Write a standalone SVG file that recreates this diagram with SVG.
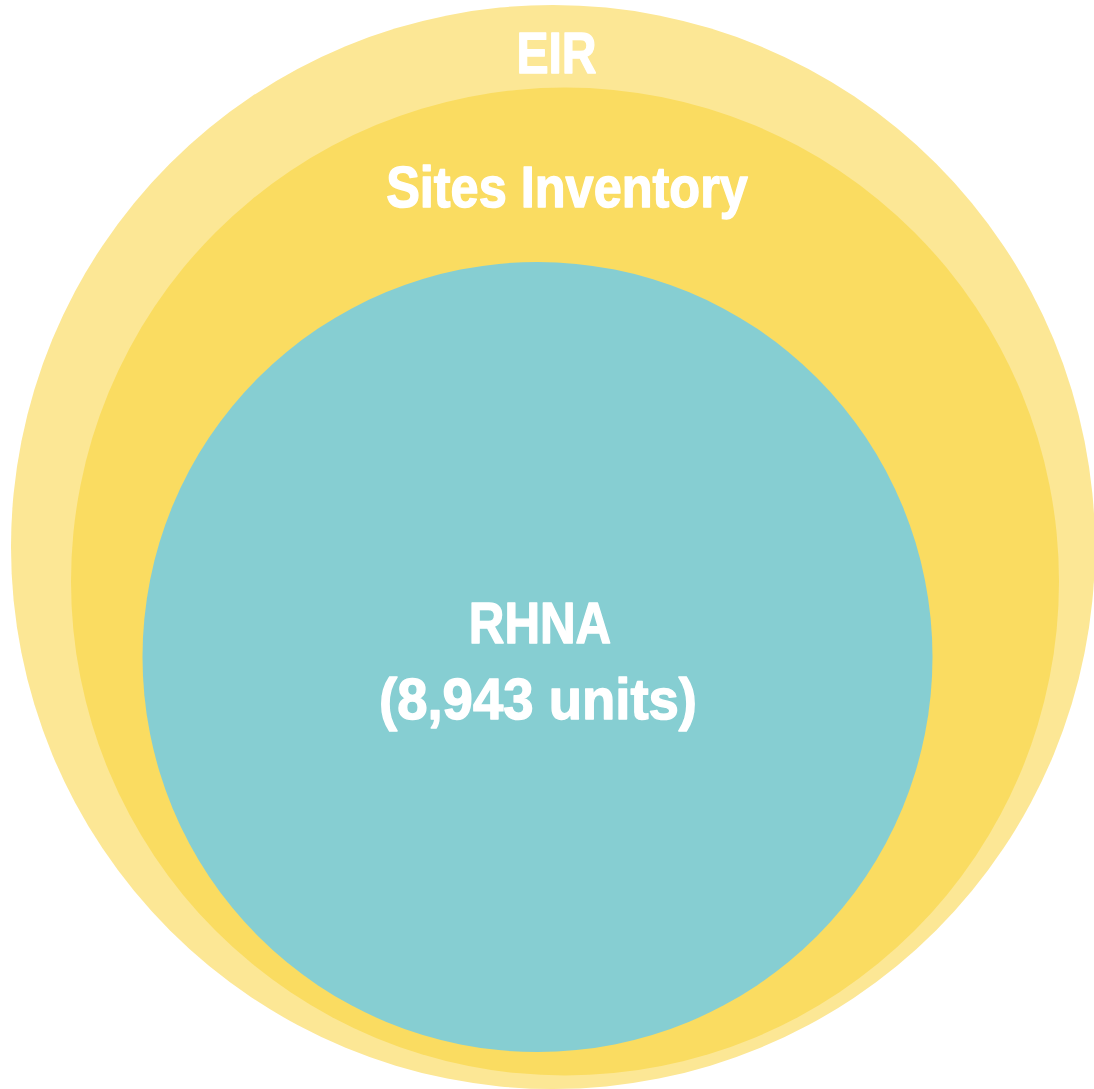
<svg xmlns="http://www.w3.org/2000/svg" width="1094" height="1089" viewBox="0 0 1094 1089">
<style>
.t{font-family:"Liberation Sans",Arial,sans-serif;font-weight:bold;font-size:58px;fill:#ffffff;stroke:#ffffff;stroke-width:1.4px;stroke-linejoin:round;text-anchor:middle}
</style>
<rect width="1094" height="1089" fill="#ffffff"/>
<g id="eir">
<circle cx="553" cy="547" r="542" fill="#FCE795"/>
<text class="t" transform="translate(556.5 73) scale(0.83 1)">EIR</text>
</g>
<g id="sites-inventory">
<circle cx="565" cy="581.5" r="494" fill="#FADC61"/>
<text class="t" transform="translate(567 207) scale(0.87 1)">Sites Inventory</text>
</g>
<g id="rhna">
<circle cx="537.5" cy="657" r="395" fill="#86CED2"/>
<text class="t" transform="translate(540 643) scale(0.85 1)">RHNA</text>
<text class="t" transform="translate(538 719) scale(0.94 1)">(8,943 units)</text>
</g>
<g id="connectors"/>
</svg>
